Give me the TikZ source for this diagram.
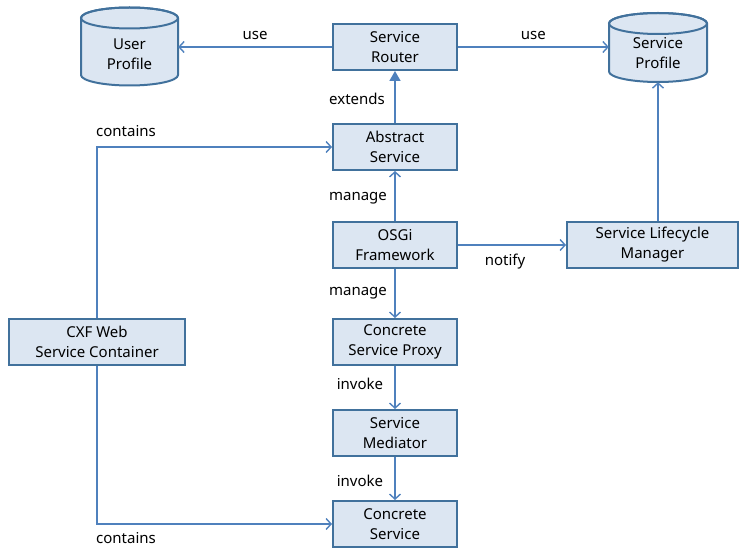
\documentclass[tikz,border=0pt]{standalone}
\usepackage{fontspec}
\setmainfont{Noto Sans}
\usetikzlibrary{arrows.meta}
\definecolor{boxfill}{HTML}{DCE6F2}
\definecolor{boxline}{HTML}{41719C}
\definecolor{wire}{HTML}{4F81BD}
\begin{document}
\begin{tikzpicture}[x=1pt,y=-1pt,
  every node/.style={font=\fontsize{15}{20}\selectfont},
  box/.style={draw=boxline,fill=boxfill,line width=2pt,align=center,
    minimum width=124pt,minimum height=46pt,inner sep=0pt},
  storeline/.style={draw=boxline,line width=2pt},
  storetext/.style={align=center,inner sep=0pt,minimum width=97pt},
  link/.style={draw=wire,line width=1.7pt,-{Straight Barb[length=5pt,width=11pt,line width=1.4pt]}},
  inherit/.style={draw=wire,line width=1.7pt,-{Triangle[length=10pt,width=11pt]}},
  lbl/.style={text=black,inner sep=0pt}]
\useasboundingbox (0,0) rectangle (740,548);

% components
\node[box] (router) at (395,47) {Service\\Router};
\node[box] (abstract) at (395,147) {Abstract\\Service};
\node[box] (osgi) at (395,245) {OSGi\\Framework};
\node[box] (proxy) at (395,342) {Concrete\\Service Proxy};
\node[box] (mediator) at (395,433) {Service\\Mediator};
\node[box] (concrete) at (395,524) {Concrete\\Service};
\node[box,minimum width=176pt] (cxf) at (97,342) {CXF Web\\Service Container};
\node[box,minimum width=171pt] (lifecycle) at (652.5,245) {Service Lifecycle\\Manager};

% data stores: cylinder body, top rim, then text
% User Profile: x 81..178, rims at y 17 and 75
\path[fill=boxfill,storeline] (81,18) -- (81,75)
  arc[start angle=180,end angle=0,x radius=48.5,y radius=10.5] -- (178,18)
  arc[start angle=0,end angle=-180,x radius=48.5,y radius=10.5] -- cycle;
\draw[storeline] (129.5,18) ellipse[x radius=48.5,y radius=10.5];
\node[storetext,minimum height=78pt] (user) at (129.5,46) {};
\node[storetext] (usertext) at (129.5,54) {User\\Profile};
% Service Profile: x 609..707, rims at y 23 and 72
\path[fill=boxfill,storeline] (609,23.5) -- (609,71.5)
  arc[start angle=180,end angle=0,x radius=49,y radius=10.5] -- (707,23.5)
  arc[start angle=0,end angle=-180,x radius=49,y radius=10.5] -- cycle;
\draw[storeline] (658,23.5) ellipse[x radius=49,y radius=10.5];
\node[storetext,minimum width=98pt,minimum height=69pt] (sprofile) at (658,47.5) {};
\node[storetext] (sprofiletext) at (658,53) {Service\\Profile};

% relations
\draw[link] (router) -- (user.east |- router) node[lbl,pos=0.5,above=6pt] {use};
\draw[link] (router) -- (sprofile.west |- router) node[lbl,pos=0.5,above=6pt] {use};
\draw[inherit] (abstract) -- (router);
\node[lbl] at (357,99) {extends};
\draw[link] (osgi) -- (abstract);
\node[lbl] at (358,198) {manage};
\draw[link] (osgi) -- (proxy);
\node[lbl] at (358,293) {manage};
\draw[link] (proxy) -- (mediator);
\node[lbl] at (360,384) {invoke};
\draw[link] (mediator) -- (concrete);
\node[lbl] at (360,481) {invoke};
\draw[link] (osgi) -- (lifecycle);
\node[lbl] at (505,262) {notify};
\draw[link] (lifecycle.north -| sprofile) -- (sprofile.south);
\draw[link] (cxf.north) |- (abstract.west);
\node[lbl] at (126,131) {contains};
\draw[link] (cxf.south) |- (concrete.west);
\node[lbl] at (126,538) {contains};
\end{tikzpicture}
\end{document}
